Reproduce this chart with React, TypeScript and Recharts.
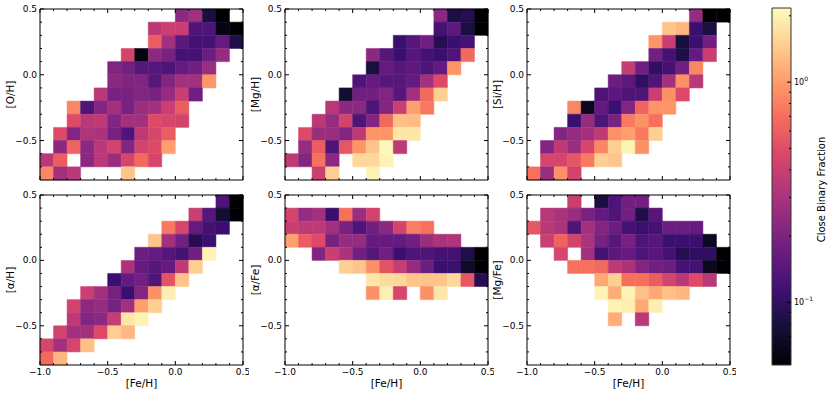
import React from 'react';
import { ScatterChart, Scatter, XAxis, YAxis, ReferenceArea, Label } from 'recharts';

const _ = null;

// columns: [Fe/H] bins of 0.1 from -1.0 to 0.5 (15 columns)
// rows: bins of 0.1 from 0.5 (top row first) down to -0.8 (13 rows)
// values: close binary fraction in each bin, empty bins = _
const oH = [
  [_, _, _, _, _, _, _, _, _, _, 0.23, 0.28, 0.081, 0.052, _],
  [_, _, _, _, _, _, _, _, 0.34, 0.4, 0.4, 0.13, 0.13, 0.058, 0.052],
  [_, _, _, _, _, _, _, _, 0.59, 0.28, 0.15, 0.12, 0.12, 0.16, 0.084],
  [_, _, _, _, _, _, 0.44, 0.056, 0.23, 0.19, 0.12, 0.12, 0.17, 0.25, _],
  [_, _, _, _, _, 0.21, 0.18, 0.14, 0.14, 0.13, 0.16, 0.18, 0.26, _, _],
  [_, _, _, _, _, 0.23, 0.21, 0.21, 0.14, 0.21, 0.28, 0.28, 0.95, _, _],
  [_, _, _, _, 0.34, 0.19, 0.19, 0.21, 0.19, 0.25, 0.4, 0.18, _, _, _],
  [_, _, 0.85, 0.13, 0.21, 0.28, 0.19, 0.26, 0.28, 0.4, 0.59, _, _, _, _],
  [_, _, 0.49, 0.34, 0.36, 0.21, 0.28, 0.28, 0.49, 0.45, 0.44, _, _, _, _],
  [_, 0.49, 0.21, 0.31, 0.3, 0.19, 0.13, 0.36, 0.45, 0.59, _, _, _, _, _],
  [_, 0.23, 0.63, 0.23, 0.34, 0.44, 0.21, 0.44, 0.49, 1.03, _, _, _, _, _],
  [0.34, 0.59, _, 0.23, 0.34, 0.26, 0.45, 0.66, 0.45, _, _, _, _, _, _],
  [0.85, 0.28, 0.34, _, _, _, 1.38, _, _, _, _, _, _, _, _],
];

const mgH = [
  [_, _, _, _, _, _, _, _, _, _, _, 0.23, 0.081, 0.091, 0.052],
  [_, _, _, _, _, _, _, _, _, _, _, 0.12, 0.15, 0.081, 0.052],
  [_, _, _, _, _, _, _, _, 0.11, 0.14, 0.18, 0.091, 0.11, 0.12, _],
  [_, _, _, _, _, _, 0.23, 0.14, 0.11, 0.14, 0.12, 0.11, 0.13, 0.66, _],
  [_, _, _, _, _, _, 0.081, 0.16, 0.14, 0.15, 0.13, 0.16, 0.95, _, _],
  [_, _, _, _, _, 0.13, 0.16, 0.14, 0.14, 0.16, 0.28, 0.49, _, _, _],
  [_, _, _, _, 0.075, 0.18, 0.18, 0.21, 0.14, 0.28, 0.66, 1.49, _, _, _],
  [_, _, _, 0.34, 0.23, 0.23, 0.13, 0.21, 0.4, 1.03, 0.76, _, _, _, _],
  [_, _, 0.34, 0.25, 0.44, 0.13, 0.21, 0.66, 1.33, 1.28, _, _, _, _, _],
  [_, 0.49, 0.26, 0.26, 0.21, 0.36, 0.95, 0.95, 1.8, 1.8, _, _, _, _, _],
  [_, 0.25, 0.59, 0.13, 0.55, 0.95, 1.38, 2.1, 0.36, _, _, _, _, _, _],
  [0.36, 0.21, 0.71, 0.23, _, 1.61, 1.61, 2.0, _, _, _, _, _, _, _],
  [_, _, 0.4, 1.49, _, _, 2.0, _, _, _, _, _, _, _, _],
];

const siH = [
  [_, _, _, _, _, _, _, _, _, _, _, _, 0.25, 0.052, 0.052],
  [_, _, _, _, _, _, _, _, _, _, 1.38, 1.24, 0.11, 0.081, _],
  [_, _, _, _, _, _, _, _, _, 0.95, 0.4, 0.081, 0.11, 0.18, _],
  [_, _, _, _, _, _, _, _, _, 0.18, 0.12, 0.084, 0.16, 0.4, _],
  [_, _, _, _, _, _, _, 0.38, 0.18, 0.1, 0.12, 0.18, 0.85, _, _],
  [_, _, _, _, _, _, 0.17, 0.15, 0.098, 0.13, 0.28, 0.92, 0.34, _, _],
  [_, _, _, _, _, 0.13, 0.15, 0.13, 0.13, 0.4, 0.92, 0.49, _, _, _],
  [_, _, _, 0.85, 0.065, 0.16, 0.11, 0.21, 0.63, 0.95, 0.95, _, _, _, _],
  [_, _, _, 0.11, 0.25, 0.13, 0.19, 0.76, 0.92, 0.71, _, _, _, _, _],
  [_, _, 0.21, 0.25, 0.28, 0.36, 0.92, 1.03, 0.76, 1.49, _, _, _, _, _],
  [_, 0.21, 0.36, 0.26, 0.45, 0.85, 1.49, 2.0, 0.92, _, _, _, _, _, _],
  [_, 0.45, 0.45, 0.55, 0.76, 1.49, 1.38, _, _, _, _, _, _, _, _],
  [0.71, 0.26, 0.92, 0.44, _, _, _, _, _, _, _, _, _, _, _],
];

const alphaH = [
  [_, _, _, _, _, _, _, _, _, _, _, _, _, 0.13, 0.052],
  [_, _, _, _, _, _, _, _, _, _, _, 0.4, 0.14, 0.075, 0.052],
  [_, _, _, _, _, _, _, _, _, 0.76, 0.45, 0.16, 0.12, 0.11, _],
  [_, _, _, _, _, _, _, _, 1.38, 0.28, 0.18, 0.091, 0.11, _, _],
  [_, _, _, _, _, _, _, 0.17, 0.16, 0.14, 0.12, 0.18, 2.0, _, _],
  [_, _, _, _, _, _, 0.3, 0.16, 0.14, 0.16, 0.36, 1.49, _, _, _],
  [_, _, _, _, _, 0.11, 0.16, 0.18, 0.13, 0.53, 1.38, _, _, _, _],
  [_, _, _, 0.4, 0.28, 0.19, 0.11, 0.21, 0.92, 1.94, _, _, _, _, _],
  [_, _, 0.44, 0.23, 0.25, 0.19, 0.28, 1.03, 1.49, _, _, _, _, _, _],
  [_, _, 0.36, 0.21, 0.23, 0.38, 1.8, 2.0, _, _, _, _, _, _, _],
  [_, 0.44, 0.28, 0.28, 0.49, 1.49, 1.24, _, _, _, _, _, _, _, _],
  [0.45, 0.28, 0.45, 1.33, _, _, _, _, _, _, _, _, _, _, _],
  [0.66, 1.24, _, _, _, _, _, _, _, _, _, _, _, _, _],
];

const alphaFe = [
  [_, _, _, _, _, _, _, _, _, _, _, _, _, _, _],
  [0.44, 0.25, 0.28, 0.11, 0.71, 0.26, 0.44, _, _, _, _, _, _, _, _],
  [0.4, 0.36, 0.36, 0.28, 0.19, 0.13, 0.18, 0.23, 0.44, 0.79, 0.71, _, _, _, _],
  [1.03, 0.59, 0.49, 0.19, 0.25, 0.25, 0.16, 0.16, 0.16, 0.18, 0.26, 0.3, 0.31, _, _],
  [_, _, 0.21, 0.4, 0.3, 0.18, 0.14, 0.18, 0.11, 0.13, 0.13, 0.12, 0.12, 0.084, 0.052],
  [_, _, _, _, 1.49, 1.38, 0.92, 0.53, 0.38, 0.25, 0.17, 0.11, 0.11, 0.07, 0.052],
  [_, _, _, _, _, _, 1.8, 1.67, 1.61, 1.38, 1.38, 1.38, 1.61, 0.55, 0.091],
  [_, _, _, _, _, _, 0.92, 1.94, 0.45, _, 0.92, 1.8, _, _, _],
];

const mgFe = [
  [_, _, _, 0.4, _, 0.081, 0.13, 0.18, 0.18, _, _, _, _, _, _],
  [_, 0.34, 0.3, 0.26, 0.19, 0.16, 0.13, 0.18, 0.084, 0.14, _, _, _, _, _],
  [0.55, 0.34, 0.3, 0.13, 0.28, 0.21, 0.17, 0.12, 0.11, 0.12, 0.17, 0.17, 0.16, _, _],
  [_, 0.4, 0.63, 0.44, 0.3, 0.19, 0.14, 0.19, 0.13, 0.14, 0.11, 0.11, 0.11, 0.065, _],
  [_, _, 0.45, _, 0.28, 0.12, 0.15, 0.16, 0.13, 0.14, 0.12, 0.091, 0.098, 0.1, 0.052],
  [_, _, _, 0.71, 0.71, 0.66, 0.36, 0.3, 0.21, 0.18, 0.17, 0.12, 0.12, 0.065, 0.052],
  [_, _, _, _, _, 1.11, 1.49, 0.71, 0.71, 0.59, 0.44, 0.34, 0.49, 0.34, _],
  [_, _, _, _, _, 2.0, 1.15, 2.0, 1.33, 1.11, 1.33, 1.24, _, _, _],
  [_, _, _, _, _, _, 2.0, 1.94, 1.11, 1.94, _, _, _, _, _],
  [_, _, _, _, _, _, 1.15, _, 0.34, _, _, _, _, _, _],
];

// ticks every 0.1; labelled every 0.5
const X_TICKS = [-1, -0.9, -0.8, -0.7, -0.6, -0.5, -0.4, -0.3, -0.2, -0.1, 0, 0.1, 0.2, 0.3, 0.4, 0.5];
const Y_TICKS = [-0.7, -0.6, -0.5, -0.4, -0.3, -0.2, -0.1, 0, 0.1, 0.2, 0.3, 0.4, 0.5];

// colorbar (log scale)
const VMIN = 0.052;
const VMAX = 2.17;
const CB_TICKS = [0.06, 0.07, 0.08, 0.09, 0.1, 0.2, 0.3, 0.4, 0.5, 0.6, 0.7, 0.8, 0.9, 1, 2];

const MAGMA = ['#000004', '#140e36', '#3b0f70', '#641a80', '#8c2981', '#b73779', '#de4968', '#f7705c', '#fe9f6d', '#fecf92', '#fcfdbf'];
const FONT = "'DejaVu Sans', sans-serif";

const hex = (h: string) => [1, 3, 5].map((i) => parseInt(h.slice(i, i + 2), 16));

function magma(t: number) {
  const p = Math.min(Math.max(t, 0), 1) * (MAGMA.length - 1);
  const i = Math.min(Math.floor(p), MAGMA.length - 2);
  const f = p - i;
  const a = hex(MAGMA[i]);
  const b = hex(MAGMA[i + 1]);
  const c = a.map((v, k) => Math.round(v + (b[k] - v) * f));
  return `rgb(${c[0]},${c[1]},${c[2]})`;
}

const colorOf = (v: number) =>
  magma((Math.log10(v) - Math.log10(VMIN)) / (Math.log10(VMAX) - Math.log10(VMIN)));

const fmt = (v: number) => (v < 0 ? '\u2212' : '') + Math.abs(v).toFixed(1);
const isMajor = (v: number) => Math.abs(v * 2 - Math.round(v * 2)) < 1e-6;

function toCells(grid: (number | null)[][]) {
  const out: { x1: number; x2: number; y1: number; y2: number; x: number; y: number; v: number }[] = [];
  grid.forEach((row, r) =>
    row.forEach((v, c) => {
      if (v == null) return;
      const x1 = (c - 10) / 10;
      const y1 = (4 - r) / 10;
      out.push({ x1, x2: (c - 9) / 10, y1, y2: (5 - r) / 10, x: x1 + 0.05, y: y1 + 0.05, v });
    })
  );
  return out;
}

type Side = 'bottom' | 'top' | 'left' | 'right';

// draws an inward tick mark (long on majors) and, optionally, the label
const makeTick = (side: Side, labels: boolean) => (props: any) => {
  const { x, y, payload } = props;
  const v = payload.value as number;
  const major = isMajor(v);
  const len = major ? 4 : 2;
  let l;
  let t = null;
  if (side === 'bottom') {
    l = <line x1={x} x2={x} y1={y} y2={y - len} stroke="#000" />;
    if (labels && major) t = <text x={x} y={y + 10} textAnchor="middle" fontSize={9} fontFamily={FONT} fill="#000">{fmt(v)}</text>;
  } else if (side === 'top') {
    l = <line x1={x} x2={x} y1={y} y2={y + len} stroke="#000" />;
  } else if (side === 'left') {
    l = <line x1={x} x2={x + len} y1={y} y2={y} stroke="#000" />;
    if (labels && major) t = <text x={x - 3} y={y + 3} textAnchor="end" fontSize={9} fontFamily={FONT} fill="#000">{fmt(v)}</text>;
  } else {
    l = <line x1={x} x2={x - len} y1={y} y2={y} stroke="#000" />;
  }
  return <g>{l}{t}</g>;
};

const BottomTickLabeled = makeTick('bottom', true);
const BottomTick = makeTick('bottom', false);
const TopTick = makeTick('top', false);
const LeftTick = makeTick('left', true);
const RightTick = makeTick('right', false);

const PW = 203;
const line = { stroke: '#000', strokeWidth: 1 };
const noShape = () => <g />;

interface PanelProps {
  title: string;
  grid: (number | null)[][];
  plotH: number;
  showX: boolean;
}

const Panel: React.FC<PanelProps> = ({ title, grid, plotH, showX }) => {
  const cells = toCells(grid);
  const xc = { type: 'number' as const, dataKey: 'x', domain: [-1, 0.5], allowDataOverflow: true, interval: 0 as const, ticks: X_TICKS, tickSize: 0, tickMargin: 0, tickLine: false, axisLine: line };
  const yc = { type: 'number' as const, dataKey: 'y', domain: [-0.8, 0.5], allowDataOverflow: true, interval: 0 as const, ticks: Y_TICKS, tickSize: 0, tickMargin: 0, tickLine: false, axisLine: line };
  return (
    <ScatterChart width={40 + PW + 1 + 5} height={8 + plotH + 30} margin={{ top: 7, right: 5, bottom: 0, left: 0 }}>
      <XAxis xAxisId="b" {...xc} height={30} tick={showX ? <BottomTickLabeled /> : <BottomTick />}>
        {showX && <Label value="[Fe/H]" position="center" dy={3} style={{ fontSize: 10.5, fontFamily: FONT, fill: '#000' }} />}
      </XAxis>
      <XAxis xAxisId="t" orientation="top" {...xc} height={1} tick={<TopTick />} />
      <YAxis yAxisId="l" {...yc} width={40} tick={<LeftTick />}>
        <Label value={title} angle={-90} position="center" dx={-10} style={{ fontSize: 10.5, fontFamily: FONT, fill: '#000' }} />
      </YAxis>
      <YAxis yAxisId="r" orientation="right" {...yc} width={1} tick={<RightTick />} />
      {cells.map((c, i) => (
        <ReferenceArea key={i} xAxisId="b" yAxisId="l" x1={c.x1} x2={c.x2} y1={c.y1} y2={c.y2}
          fill={colorOf(c.v)} fillOpacity={1} stroke={colorOf(c.v)} strokeWidth={0.5} ifOverflow="visible" />
      ))}
      <Scatter xAxisId="b" yAxisId="l" data={cells} isAnimationActive={false} shape={noShape} />
    </ScatterChart>
  );
};

const ColorTick = (props: any) => {
  const { x, y, payload } = props;
  const v = payload.value as number;
  const e = Math.log10(v);
  const major = Math.abs(e - Math.round(e)) < 1e-6;
  const len = major ? 4 : 2;
  return (
    <g>
      <line x1={x} x2={x - len} y1={y} y2={y} stroke="#000" />
      {major && (
        <text x={x + 3} y={y + 3} fontSize={8} fontFamily={FONT} fill="#000" textAnchor="start">
          10<tspan dy={-4} fontSize={6}>{e < 0 ? '\u2212' + Math.abs(Math.round(e)) : String(Math.round(e))}</tspan>
        </text>
      )}
    </g>
  );
};

const ColorBar: React.FC = () => {
  const marks = [{ x: 0.5, y: 1 }];
  return (
    <ScatterChart width={61} height={395} margin={{ top: 8, right: 0, bottom: 30, left: 2 }}>
      <defs>
        <linearGradient id="magmaBar" x1="0" y1="1" x2="0" y2="0">
          {MAGMA.map((c, i) => (
            <stop key={i} offset={`${(i / (MAGMA.length - 1)) * 100}%`} stopColor={c} />
          ))}
        </linearGradient>
      </defs>
      <XAxis xAxisId="cbx" dataKey="x" type="number" domain={[0, 1]} hide />
      <YAxis yAxisId="cb" dataKey="y" type="number" scale="log" domain={[VMIN, VMAX]} allowDataOverflow
        orientation="right" width={40} interval={0} ticks={CB_TICKS} tickSize={0} tickMargin={0}
        tickLine={false} axisLine={false} tick={<ColorTick />}>
        <Label value="Close Binary Fraction" angle={-90} position="center" dx={10} dy={3} style={{ fontSize: 10, fontFamily: FONT, fill: '#000' }} />
      </YAxis>
      <ReferenceArea xAxisId="cbx" yAxisId="cb" x1={0} x2={1} y1={VMIN} y2={VMAX}
        fill="url(#magmaBar)" fillOpacity={1} stroke="#333" strokeWidth={1} ifOverflow="visible" />
      <Scatter xAxisId="cbx" yAxisId="cb" data={marks} isAnimationActive={false} shape={noShape} />
    </ScatterChart>
  );
};

const panels = [
  { title: '[O/H]', grid: oH, left: 40, top: 9, plotH: 171, showX: false },
  { title: '[Mg/H]', grid: mgH, left: 285, top: 9, plotH: 171, showX: false },
  { title: '[Si/H]', grid: siH, left: 527, top: 9, plotH: 171, showX: false },
  { title: '[\u03b1/H]', grid: alphaH, left: 40, top: 195, plotH: 170, showX: true },
  { title: '[\u03b1/Fe]', grid: alphaFe, left: 285, top: 195, plotH: 170, showX: true },
  { title: '[Mg/Fe]', grid: mgFe, left: 527, top: 195, plotH: 170, showX: true },
];

export default function App() {
  return (
    <div style={{ position: 'absolute', left: 0, top: 0, width: 831, height: 395, background: '#fff', overflow: 'hidden', fontFamily: FONT }}>
      {panels.map((p) => (
        <div key={p.title} style={{ position: 'absolute', left: p.left - 40, top: p.top - 8 }}>
          <Panel title={p.title} grid={p.grid} plotH={p.plotH} showX={p.showX} />
        </div>
      ))}
      <div style={{ position: 'absolute', left: 770, top: 0 }}>
        <ColorBar />
      </div>
    </div>
  );
}
